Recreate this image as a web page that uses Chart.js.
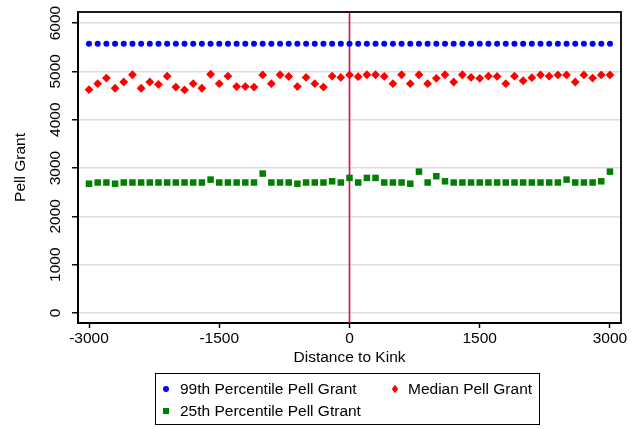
<!DOCTYPE html>
<html><head><meta charset="utf-8">
<script src="https://cdn.jsdelivr.net/npm/chart.js@4.4.0/dist/chart.umd.min.js"></script>
<style>
html,body{margin:0;padding:0;background:#fff;}
#wrap{position:relative;width:643px;height:429px;}
#legend{position:absolute;left:155px;top:373px;width:385px;height:52px;border:1.5px solid #000;box-sizing:border-box;font-family:"Liberation Sans",Arial,sans-serif;font-size:15.5px;color:#000;}
.item{position:absolute;white-space:nowrap;line-height:18px;}
.mk{position:absolute;}
</style></head><body>
<div id="wrap"><canvas id="c" width="643" height="429"></canvas><div id="legend"></div></div>
<script>
const distance = [-3000,-2900,-2800,-2700,-2600,-2500,-2400,-2300,-2200,-2100,-2000,-1900,-1800,-1700,-1600,-1500,-1400,-1300,-1200,-1100,-1000,-900,-800,-700,-600,-500,-400,-300,-200,-100,0,100,200,300,400,500,600,700,800,900,1000,1100,1200,1300,1400,1500,1600,1700,1800,1900,2000,2100,2200,2300,2400,2500,2600,2700,2800,2900,3000];
const p99 = [5570,5570,5570,5570,5570,5570,5570,5570,5570,5570,5570,5570,5570,5570,5570,5570,5570,5570,5570,5570,5570,5570,5570,5570,5570,5570,5570,5570,5570,5570,5570,5570,5570,5570,5570,5570,5570,5570,5570,5570,5570,5570,5570,5570,5570,5570,5570,5570,5570,5570,5570,5570,5570,5570,5570,5570,5570,5570,5570,5570,5570];
const median = [4620,4745,4860,4650,4780,4930,4650,4780,4730,4900,4675,4615,4745,4650,4940,4745,4900,4685,4685,4675,4925,4745,4930,4895,4685,4875,4745,4675,4900,4875,4925,4890,4930,4930,4895,4745,4930,4745,4930,4745,4855,4930,4780,4930,4875,4855,4900,4895,4745,4900,4805,4870,4925,4900,4925,4925,4780,4925,4860,4925,4925];
const p25 = [2675,2700,2700,2675,2700,2700,2700,2700,2700,2700,2700,2700,2700,2700,2760,2700,2700,2700,2700,2700,2885,2700,2700,2700,2675,2700,2700,2700,2725,2700,2795,2700,2795,2795,2700,2700,2700,2675,2925,2700,2830,2725,2700,2700,2700,2700,2700,2700,2700,2700,2700,2700,2700,2700,2700,2760,2700,2700,2700,2725,2925];
const xTicks = [-3000,-1500,0,1500,3000];
const yTicks = [0,1000,2000,3000,4000,5000,6000];
const seriesLabels = ['99th Percentile Pell Grant','Median Pell Grant','25th Percentile Pell Gtrant'];
const seriesColors = ['#0000ff','#ff0000','#008000'];
const kinkAt = 0;

const FONT = '"Liberation Sans", Arial, sans-serif';
const pts = arr => distance.map((x,i)=>({x:x, y:arr[i]}));

const framePlugin = {
  id:'frame',
  beforeDatasetsDraw(chart){
    const {ctx, chartArea:a, scales:{x}} = chart;
    const px = x.getPixelForValue(kinkAt);
    ctx.save();
    ctx.strokeStyle = '#d8104a';
    ctx.lineWidth = 1.6;
    ctx.beginPath(); ctx.moveTo(px, a.top); ctx.lineTo(px, a.bottom); ctx.stroke();
    ctx.restore();
  },
  afterDatasetsDraw(chart){
    const {ctx, chartArea:a} = chart;
    ctx.save();
    ctx.strokeStyle = '#1a1a1a';
    ctx.lineWidth = 2;
    ctx.beginPath();
    ctx.moveTo(a.left, a.top); ctx.lineTo(a.right, a.top); ctx.lineTo(a.right, a.bottom);
    ctx.stroke();
    ctx.restore();
  }
};

const plain = v => String(v);

const chart = new Chart(document.getElementById('c'), {
  type:'scatter',
  data:{datasets:[
    {label:seriesLabels[0], data:pts(p99), pointStyle:'circle', pointRadius:3, backgroundColor:seriesColors[0], borderWidth:0},
    {label:seriesLabels[1], data:pts(median), pointStyle:'rectRot', pointRadius:4.4, backgroundColor:seriesColors[1], borderWidth:0},
    {label:seriesLabels[2], data:pts(p25), pointStyle:'rect', pointRadius:4.6, backgroundColor:seriesColors[2], borderWidth:0}
  ]},
  options:{
    responsive:false, animation:false, devicePixelRatio:1,
    layout:{padding:{left:0,right:22,top:12,bottom:58}},
    plugins:{legend:{display:false}, tooltip:{enabled:false}},
    scales:{
      x:{type:'linear', min:-3127, max:3127,
        afterBuildTicks:s=>{s.ticks = xTicks.map(v=>({value:v}));},
        afterFit:s=>{s.height = 48;},
        grid:{drawOnChartArea:false, tickLength:5, tickColor:'#000', tickWidth:1.5},
        border:{color:'#000', width:2},
        ticks:{color:'#000', font:{family:FONT, size:15.5}, padding:1, maxRotation:0, autoSkip:false, callback:plain},
        title:{display:true, text:'Distance to Kink', color:'#000', font:{family:FONT, size:15.5}, padding:{top:0,bottom:4}}
      },
      y:{type:'linear', min:-207, max:6228,
        afterBuildTicks:s=>{s.ticks = yTicks.map(v=>({value:v}));},
        afterFit:s=>{s.width = 78;},
        grid:{color:'#dedede', lineWidth:1.5, tickLength:6, tickColor:'#000', tickWidth:1.5},
        border:{color:'#000', width:2},
        ticks:{color:'#000', font:{family:FONT, size:15.5}, padding:-1, minRotation:90, maxRotation:90, crossAlign:'center', autoSkip:false, callback:plain},
        title:{display:true, text:'Pell Grant', color:'#000', font:{family:FONT, size:15.5}, padding:{top:11,bottom:0}}
      }
    }
  },
  plugins:[framePlugin]
});

// HTML legend built from the datasets
const legend = document.getElementById('legend');
const layout = [
  {mx:10, my:15, tx:24, ty:6},
  {mx:239, my:15, tx:252, ty:6},
  {mx:10, my:37, tx:24, ty:28}
];
chart.data.datasets.forEach((ds,i)=>{
  const L = layout[i];
  const mk = document.createElement('div');
  mk.className = 'mk';
  let w = 6, h = 6, extra = '';
  if (ds.pointStyle === 'circle') { extra = 'border-radius:50%;'; }
  if (ds.pointStyle === 'rectRot') { w = 6; h = 6; extra = 'transform:scaleX(0.75) rotate(45deg);'; }
  if (ds.pointStyle === 'rect') { w = 6; h = 6; }
  mk.style.cssText = `left:${L.mx - w/2}px;top:${L.my - h/2}px;width:${w}px;height:${h}px;background:${ds.backgroundColor};${extra}`;
  legend.appendChild(mk);
  const t = document.createElement('div');
  t.className = 'item';
  t.style.left = L.tx + 'px'; t.style.top = L.ty + 'px';
  t.textContent = ds.label;
  legend.appendChild(t);
});
</script>
</body></html>
